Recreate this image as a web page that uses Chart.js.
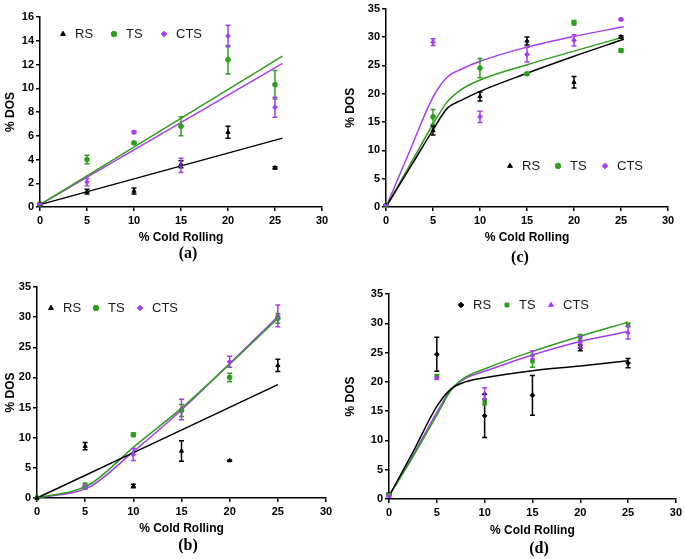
<!DOCTYPE html>
<html>
<head>
<meta charset="utf-8">
<script src="https://cdn.jsdelivr.net/npm/chart.js@4.4.0/dist/chart.umd.min.js"></script>
<style>
  body { margin: 0; background: #fff; }
  #wrap { position: relative; width: 685px; height: 559px; overflow: hidden; }
  canvas { position: absolute; }
  .cap { position: absolute; font: bold 16px "Liberation Serif", "DejaVu Serif", serif; color: #000; transform: translate(-50%, -50%); }
</style>
</head>
<body>
<div id="wrap">
  <canvas id="pa" width="340" height="248" style="left:0;top:0"></canvas>
  <canvas id="pc" width="345" height="248" style="left:340px;top:0"></canvas>
  <canvas id="pb" width="340" height="269" style="left:0;top:270px"></canvas>
  <canvas id="pd" width="345" height="271" style="left:340px;top:270px"></canvas>
  <div class="cap" style="left:188px;top:253px">(a)</div>
  <div class="cap" style="left:520px;top:257px">(c)</div>
  <div class="cap" style="left:188px;top:545px">(b)</div>
  <div class="cap" style="left:539px;top:548px">(d)</div>
</div>
<script>
// % cold rolling levels used in every panel
const xCold = [0, 5, 10, 15, 20, 25];

// (a)
const aRS = [0.25, 1.3, 1.35, 3.6, 6.3, 3.3];
const aRSerr = [0.05, 0.2, 0.25, 0.3, 0.5, 0.1];
const aTS = [0.25, 4.0, 5.4, 6.8, 12.4, 10.3];
const aTSerr = [0.05, 0.35, 0.1, 0.8, 1.2, 1.2];
const aCTS = [0.25, 2.1, 6.3, 3.5, 14.4, 8.4];
const aCTSerr = [0.05, 0.3, 0.1, 0.6, 0.9, 0.85];
const aFitX = [0, 25.8];
const aFitRS = [0.2, 5.8];
const aFitTS = [0.2, 12.7];
const aFitCTS = [0.2, 12.1];

// (b)
const bRS = [0, 8.6, 2.0, 7.8, 6.2, 22.0];
const bRSerr = [0, 0.6, 0.3, 1.7, 0.1, 1.0];
const bTS = [0, 2.0, 10.5, 14.5, 20.0, 29.8];
const bTSerr = [0, 0.5, 0.3, 1.0, 0.7, 0.8];
const bCTS = [0, 1.8, 7.2, 14.7, 22.6, 30.2];
const bCTSerr = [0, 0.3, 1.0, 1.7, 0.9, 1.8];
const bFitRSX = [0, 25];
const bFitRS = [0, 18.8];
const bFitX = [0, 5.4, 10, 15, 20, 25];
const bFitTS = [0, 2.2, 8.4, 14.9, 22.2, 29.8];
const bFitCTS = [0, 1.8, 7.7, 14.6, 22.3, 30.1];

// (c)
const cRS = [0.3, 13.5, 19.5, 29.3, 22.0, 30.0];
const cRSerr = [0.1, 0.8, 0.8, 0.7, 1.0, 0.2];
const cTS = [0.3, 15.9, 24.5, 23.5, 32.5, 27.6];
const cTSerr = [0.1, 1.3, 1.7, 0.2, 0.4, 0.3];
const cCTS = [0.3, 29.1, 15.9, 26.9, 29.4, 33.1];
const cCTSerr = [0.1, 0.6, 1.0, 1.3, 1.0, 0.2];
const cFitX = [0, 2.5, 5, 6.5, 8, 10, 15, 20, 25.3];
const cFitRS = [0, 6.8, 13.6, 17.4, 18.8, 20.4, 23.6, 26.6, 29.6];
const cFitTS = [0, 7.3, 14.6, 18.5, 20.7, 22.4, 25.1, 27.5, 30.0];
const cFitCTS = [0, 9.8, 19.4, 22.9, 24.3, 25.7, 28.2, 30.1, 31.8];

// (d)
const dRS = [0.8, 24.7, 14.2, 17.7, 25.8, 23.2];
const dRSerr = [0.2, 2.9, 3.7, 3.4, 0.5, 0.8];
const dTS = [0.8, 21.0, 16.6, 23.5, 27.6, 29.7];
const dTSerr = [0.1, 0.2, 0.5, 1.0, 0.5, 0.3];
const dCTS = [0.5, 20.6, 18.0, 24.6, 26.8, 28.4];
const dCTSerr = [0.1, 0.2, 1.0, 0.7, 1.0, 1.1];
const dFitX = [0, 2.5, 5, 6.5, 8, 10, 15, 20, 25];
const dFitRS = [0.5, 8.0, 15.8, 18.8, 20.0, 20.7, 21.9, 22.7, 23.6];
const dFitTS = [0.5, 7.2, 14.3, 18.6, 20.8, 22.2, 25.2, 27.8, 30.2];
const dFitCTS = [0.5, 7.4, 14.8, 18.7, 20.6, 21.8, 24.6, 26.9, 28.6];

const BLACK = '#000000';
const GREEN = '#2f9e1c';
const PURPLE = '#a63cf2';

const pairs = (xs, ys) => xs.map((x, i) => ({ x: x, y: ys[i] }));

// vertical error bars with caps, drawn from the dataset's errors array
const errorBars = {
  id: 'errorBars',
  afterDatasetsDraw(chart) {
    const ctx = chart.ctx;
    const ys = chart.scales.y;
    chart.data.datasets.forEach((ds, i) => {
      if (!ds.errors) return;
      const meta = chart.getDatasetMeta(i);
      ctx.save();
      ctx.strokeStyle = ds.borderColor;
      ctx.lineWidth = 1.5;
      meta.data.forEach((pt, j) => {
        const e = ds.errors[j];
        if (!e) return;
        const v = ds.data[j].y;
        const top = ys.getPixelForValue(v + e);
        const bot = ys.getPixelForValue(v - e);
        ctx.beginPath();
        ctx.moveTo(pt.x, top); ctx.lineTo(pt.x, bot);
        ctx.moveTo(pt.x - 2.5, top); ctx.lineTo(pt.x + 2.5, top);
        ctx.moveTo(pt.x - 2.5, bot); ctx.lineTo(pt.x + 2.5, bot);
        ctx.stroke();
      });
      ctx.restore();
    });
  }
};

// legend drawn inside the plot, items at given pixel positions
const insideLegend = {
  id: 'insideLegend',
  afterDraw(chart, args, opts) {
    if (!opts || !opts.marks) return;
    const ctx = chart.ctx;
    const items = chart.data.datasets.filter(d => d.errors);
    ctx.save();
    ctx.font = '13px Arial, "Liberation Sans", sans-serif';
    ctx.textBaseline = 'middle';
    items.forEach((ds, i) => {
      ctx.fillStyle = ds.backgroundColor;
      ctx.strokeStyle = ds.borderColor;
      ctx.lineWidth = 1;
      Chart.helpers.drawPoint(ctx, { pointStyle: ds.pointStyle, radius: 2.8, rotation: 0, borderWidth: 1 }, opts.marks[i], opts.y);
      ctx.fillStyle = '#1a1a1a';
      ctx.fillText(ds.label, opts.marks[i] + 12, opts.y + 0.5);
    });
    ctx.restore();
  }
};

function panel(id, o) {
  const datasets = [];
  o.points.forEach(p => {
    datasets.push({
      type: 'scatter', label: p.label, data: pairs(xCold, p.y), errors: p.err,
      pointStyle: p.style, pointRadius: 2.4, backgroundColor: p.color, borderColor: p.color,
      borderWidth: 1, showLine: false, clip: false
    });
  });
  o.fits.forEach(f => {
    datasets.push({
      type: 'line', label: '', data: pairs(f.x, f.y), borderColor: f.color, borderWidth: 1.5,
      pointRadius: 0, fill: false, clip: false,
      cubicInterpolationMode: o.curve ? 'monotone' : 'default', tension: 0
    });
  });

  const tickFont = { size: 11, weight: 'bold' };
  const titleFont = { size: 12, weight: 'bold' };
  new Chart(document.getElementById(id), {
    type: 'scatter',
    data: { datasets: datasets },
    plugins: [errorBars, insideLegend],
    options: {
      responsive: false,
      animation: false,
      devicePixelRatio: 1,
      layout: { padding: o.pad },
      plugins: {
        legend: { display: false },
        tooltip: { enabled: false },
        insideLegend: o.legend
      },
      scales: {
        x: {
          type: 'linear', min: 0, max: 30,
          ticks: { stepSize: 5, color: '#000', font: tickFont, padding: 3 },
          grid: { drawOnChartArea: false, color: '#000', tickLength: 4, lineWidth: 1.5 },
          border: { color: '#000', width: 1.5 },
          title: { display: true, text: '% Cold Rolling', color: '#000', font: titleFont, padding: { top: 4, bottom: 0 } },
          afterFit: s => { s.height = o.xh; }
        },
        y: {
          type: 'linear', min: 0, max: o.ymax,
          ticks: { stepSize: o.ystep, color: '#000', font: tickFont, padding: 2 },
          grid: { drawOnChartArea: false, color: '#000', tickLength: 4, lineWidth: 1.5 },
          border: { color: '#000', width: 1.5 },
          title: { display: true, text: '% DOS', color: '#000', font: titleFont, padding: { top: 3, bottom: 2 } },
          afterFit: s => { s.width = o.yw; }
        }
      }
    }
  });
}

panel('pa', {
  ymax: 16, ystep: 2, yw: 40, xh: 38,
  pad: { left: 0, right: 18, top: 17, bottom: 3 },
  legend: { marks: [63, 114, 164], y: 34 },
  points: [
    { label: 'RS', y: aRS, err: aRSerr, style: 'triangle', color: BLACK },
    { label: 'TS', y: aTS, err: aTSerr, style: 'circle', color: GREEN },
    { label: 'CTS', y: aCTS, err: aCTSerr, style: 'rectRot', color: PURPLE }
  ],
  fits: [
    { x: aFitX, y: aFitRS, color: BLACK },
    { x: aFitX, y: aFitTS, color: GREEN },
    { x: aFitX, y: aFitCTS, color: PURPLE }
  ]
});

panel('pc', {
  ymax: 35, ystep: 5, yw: 46, xh: 38, curve: true,
  pad: { left: 0, right: 17, top: 7, bottom: 3 },
  legend: { marks: [170, 218, 265], y: 166 },
  points: [
    { label: 'RS', y: cRS, err: cRSerr, style: 'triangle', color: BLACK },
    { label: 'TS', y: cTS, err: cTSerr, style: 'circle', color: GREEN },
    { label: 'CTS', y: cCTS, err: cCTSerr, style: 'rectRot', color: PURPLE }
  ],
  fits: [
    { x: cFitX, y: cFitRS, color: BLACK },
    { x: cFitX, y: cFitTS, color: GREEN },
    { x: cFitX, y: cFitCTS, color: PURPLE }
  ]
});

panel('pb', {
  ymax: 35, ystep: 5, yw: 37, xh: 38, curve: true,
  pad: { left: 0, right: 14, top: 17, bottom: 3 },
  legend: { marks: [51, 96, 140], y: 38 },
  points: [
    { label: 'RS', y: bRS, err: bRSerr, style: 'triangle', color: BLACK },
    { label: 'TS', y: bTS, err: bTSerr, style: 'circle', color: GREEN },
    { label: 'CTS', y: bCTS, err: bCTSerr, style: 'rectRot', color: PURPLE }
  ],
  fits: [
    { x: bFitRSX, y: bFitRS, color: BLACK },
    { x: bFitX, y: bFitTS, color: GREEN },
    { x: bFitX, y: bFitCTS, color: PURPLE }
  ]
});

panel('pd', {
  ymax: 35, ystep: 5, yw: 49, xh: 39, curve: true,
  pad: { left: 0, right: 8, top: 24, bottom: 3 },
  legend: { marks: [121, 167, 211], y: 35 },
  points: [
    { label: 'RS', y: dRS, err: dRSerr, style: 'rectRot', color: BLACK },
    { label: 'TS', y: dTS, err: dTSerr, style: 'rect', color: GREEN },
    { label: 'CTS', y: dCTS, err: dCTSerr, style: 'triangle', color: PURPLE }
  ],
  fits: [
    { x: dFitX, y: dFitRS, color: BLACK },
    { x: dFitX, y: dFitTS, color: GREEN },
    { x: dFitX, y: dFitCTS, color: PURPLE }
  ]
});
</script>
</body>
</html>
